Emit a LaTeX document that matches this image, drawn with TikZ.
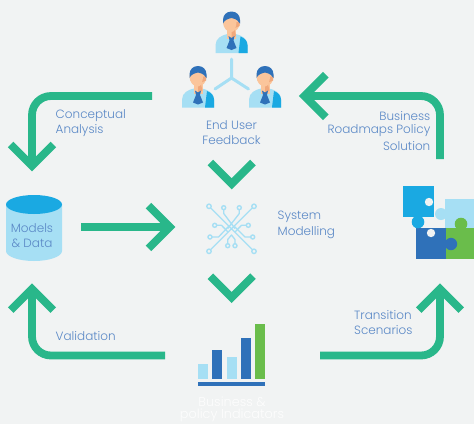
\documentclass[tikz,border=0pt]{standalone}
\usepackage{fontspec}
\setmainfont{Poppins Light}
\definecolor{bgc}{HTML}{F1F3F3}
\definecolor{flow}{HTML}{29B78A}
\definecolor{lblue}{HTML}{A6DFF4}
\definecolor{mblue}{HTML}{1AA9E2}
\definecolor{dblue}{HTML}{2F71B9}
\definecolor{lgreen}{HTML}{6ABD4B}
\definecolor{txt}{HTML}{5A88C6}
\definecolor{skin}{HTML}{FBC59B}
\definecolor{skind}{HTML}{F0A87C}
\tikzset{
  flowline/.style={draw=flow,line width=7.8pt,rounded corners=19pt,line cap=butt},
  chevron/.style={draw=flow,line width=7.8pt,line join=miter,miter limit=10,line cap=butt},
  lbl/.style={text=txt,font=\fontsize{12}{15}\selectfont,inner sep=0pt,align=left},
  whitelbl/.style={text=white!85!bgc,font=\fontsize{12.8}{15}\selectfont,inner sep=0pt,align=center},
  net/.style={draw=lblue,line width=1.3pt,line join=round},
  netdot/.style={draw=lblue,fill=bgc,line width=1.4pt},
}
\newcommand{\personicon}[2]{%
 \begin{scope}[shift={(#1,#2)}]
  \fill[lblue] (-16,0) -- (-16,-8) .. controls (-16,-15) and (-9,-18) .. (-4,-19) -- (4,-19) .. controls (9,-18) and (16,-15) .. (16,-8) -- (16,0) -- cycle;
  \fill[mblue] (7,0) -- (9,-16.5) .. controls (13,-15) and (16,-12) .. (16,-8) -- (16,0) -- cycle;
  \fill[skin] (-4.5,-24) rectangle (4.5,-14);
  \fill[skin] (0,-31) ellipse (8.5pt and 10pt);
  \fill[skind] (0,-23.5) -- (8,-27) -- (8,-31) -- (4.5,-31) -- (3,-23) -- (4.5,-17) -- (0,-15) -- cycle;
  \fill[skin] (-8,-33) .. controls (-8,-24) and (-4,-21) .. (0,-21) .. controls (3,-21) and (5,-25) .. (5,-33) -- cycle;
  \fill[dblue] (-8.5,-29.5) -- (-8.5,-33) .. controls (-8.5,-38) and (-5,-41.5) .. (0,-41.5) .. controls (5,-41.5) and (8.5,-38) .. (8.5,-33) -- (8.5,-29.5) .. controls (7,-32) and (5,-34) .. (0,-35) .. controls (-4,-34) and (-7,-33) .. (-8.5,-29.5) -- cycle;
  \fill[dblue] (-3,-17) -- (0,-15) -- (3,-17) -- (2,-12.5) -- (5,-5) -- (0,-3) -- (-5,-5) -- (-2,-12.5) -- cycle;
 \end{scope}}
\begin{document}
\begin{tikzpicture}[x=1pt,y=-1pt]
\useasboundingbox (0,0) rectangle (474,424);
\fill[bgc] (0,0) rectangle (474,424);

% flow arrows
\coordinate (a1s) at (152,96); \coordinate (a1c) at (32,96); \coordinate (a1t) at (32,165.8);
\draw[flowline] (a1s) -- (a1c) -- (a1t);
\draw[chevron] (10.7,144.5) -- (a1t) -- (53.3,144.5);
\coordinate (a2s) at (440,159); \coordinate (a2c) at (440,96); \coordinate (a2t) at (304.5,96);
\draw[flowline] (a2s) -- (a2c) -- (a2t);
\draw[chevron] (325.8,74.7) -- (a2t) -- (325.8,117.3);
\coordinate (a3s) at (165,355.5); \coordinate (a3c) at (32,355.5); \coordinate (a3t) at (32,288.8);
\draw[flowline] (a3s) -- (a3c) -- (a3t);
\draw[chevron] (10.7,310.1) -- (a3t) -- (53.3,310.1);
\coordinate (a4s) at (320,355.5); \coordinate (a4c) at (440,355.5); \coordinate (a4t) at (440,288.8);
\draw[flowline] (a4s) -- (a4c) -- (a4t);
\draw[chevron] (418.7,310.1) -- (a4t) -- (461.3,310.1);
\coordinate (a5s) at (81,227); \coordinate (a5t) at (169.8,227);
\draw[flowline] (a5s) -- (a5t);
\draw[chevron] (148.5,205.7) -- (a5t) -- (148.5,248.3);
\coordinate (c1) at (231.7,183.8); \coordinate (c2) at (231.7,297.5);
\draw[chevron] (210.4,162.5) -- (c1) -- (253,162.5);
\draw[chevron] (210.4,276.2) -- (c2) -- (253,276.2);

% people
\personicon{231.5}{53}
\personicon{198}{107.5}
\personicon{265}{107.5}
\coordinate (yc) at (231.5,78);
\draw[draw=lblue,line width=3pt,line cap=round] (231.5,59) -- (yc) (215,89) -- (yc) (248.5,89) -- (yc);

% network
\draw[net] (209,206.3) -- (254,251.3) (254,206.3) -- (209,251.3);
\draw[net] (223.7,207.7) -- (223.7,213.5) -- (235,228.5) (239.3,207.7) -- (239.3,213.5) -- (227.7,228.5);
\draw[net] (214.7,225.3) -- (221.5,225.3) -- (228,232) (248.3,225.3) -- (241.5,225.3) -- (235,232);
\draw[net] (210,237) -- (218.5,237) -- (228.5,226.5) (252.7,237) -- (245,237) -- (234.5,226.5);
\draw[net] (227.7,245.7) -- (227.7,239.5) -- (231.5,235) -- (235,239.5) -- (235,245.7);
\foreach \a/\b/\r in {209/206.3/2.2,254/206.3/2.2,209/251.3/2.2,254/251.3/2.2,223.7/207.7/2,239.3/207.7/2,214.7/225.3/2,248.3/225.3/2,210/237/2,252.7/237/2,227.7/245.7/2,235/245.7/2}{
  \filldraw[netdot] (\a,\b) circle (\r pt);}

% cylinder
\fill[lblue] (6,204) -- (6,251) arc[start angle=180,end angle=360,x radius=28pt,y radius=10pt] -- (62,204) -- cycle;
\fill[mblue] (34,204.5) ellipse (28pt and 9.5pt);

% puzzle
\fill[lblue] (445,199) rectangle (474,228);
\fill[lblue] (441,214) circle (6pt);
\fill[lgreen] (446,228) rectangle (474,259);
\fill[lgreen] (461,224) circle (6.3pt);
\fill[dblue] (416,228) rectangle (446,259);
\fill[dblue] (451,244) circle (6.2pt);
\fill[mblue] (403,186) rectangle (434,217);
\fill[mblue] (418,222) circle (6.3pt);
\fill[bgc] (429,202) circle (4.2pt);
\fill[bgc] (431,233) circle (4.2pt);

% bars
\fill[lblue] (198,364) rectangle (208,379);
\fill[dblue] (212,350) rectangle (222,379);
\fill[lblue] (227,357) rectangle (237,379);
\fill[dblue] (241,338) rectangle (251,379);
\fill[lgreen] (255,324) rectangle (265,379);
\fill[dblue] (198,382) rectangle (265,386);

% labels
\node[lbl,anchor=west] (conc) at (55.5,116) {Conceptual};
\node[lbl,anchor=west] (anal) at (55.5,131) {Analysis};
\node[lbl,anchor=center] (eu) at (231.5,125) {End User};
\node[lbl,anchor=center] (fb) at (231.5,140) {Feedback};
\node[lbl,anchor=east] (b1) at (430.5,116) {Business};
\node[lbl,anchor=east] (b2) at (430.5,131) {Roadmaps Policy};
\node[lbl,anchor=east] (b3) at (430.5,146) {Solution};
\node[lbl,anchor=west] (sys) at (277.5,217) {System};
\node[lbl,anchor=west] (mod) at (277.5,233) {Modelling};
\node[lbl,anchor=center] (md1) at (32,228) {Models};
\node[lbl,anchor=center] (md2) at (32,243) {\& Data};
\node[lbl,anchor=west] (val) at (55.5,336) {Validation};
\node[lbl,anchor=west] (t1) at (354,315) {Transition};
\node[lbl,anchor=west] (t2) at (354,330) {Scenarios};
\node[whitelbl] (bp1) at (232,401.5) {Business \&};
\node[whitelbl] (bp2) at (232,415.5) {policy Indicators};
\end{tikzpicture}
\end{document}
